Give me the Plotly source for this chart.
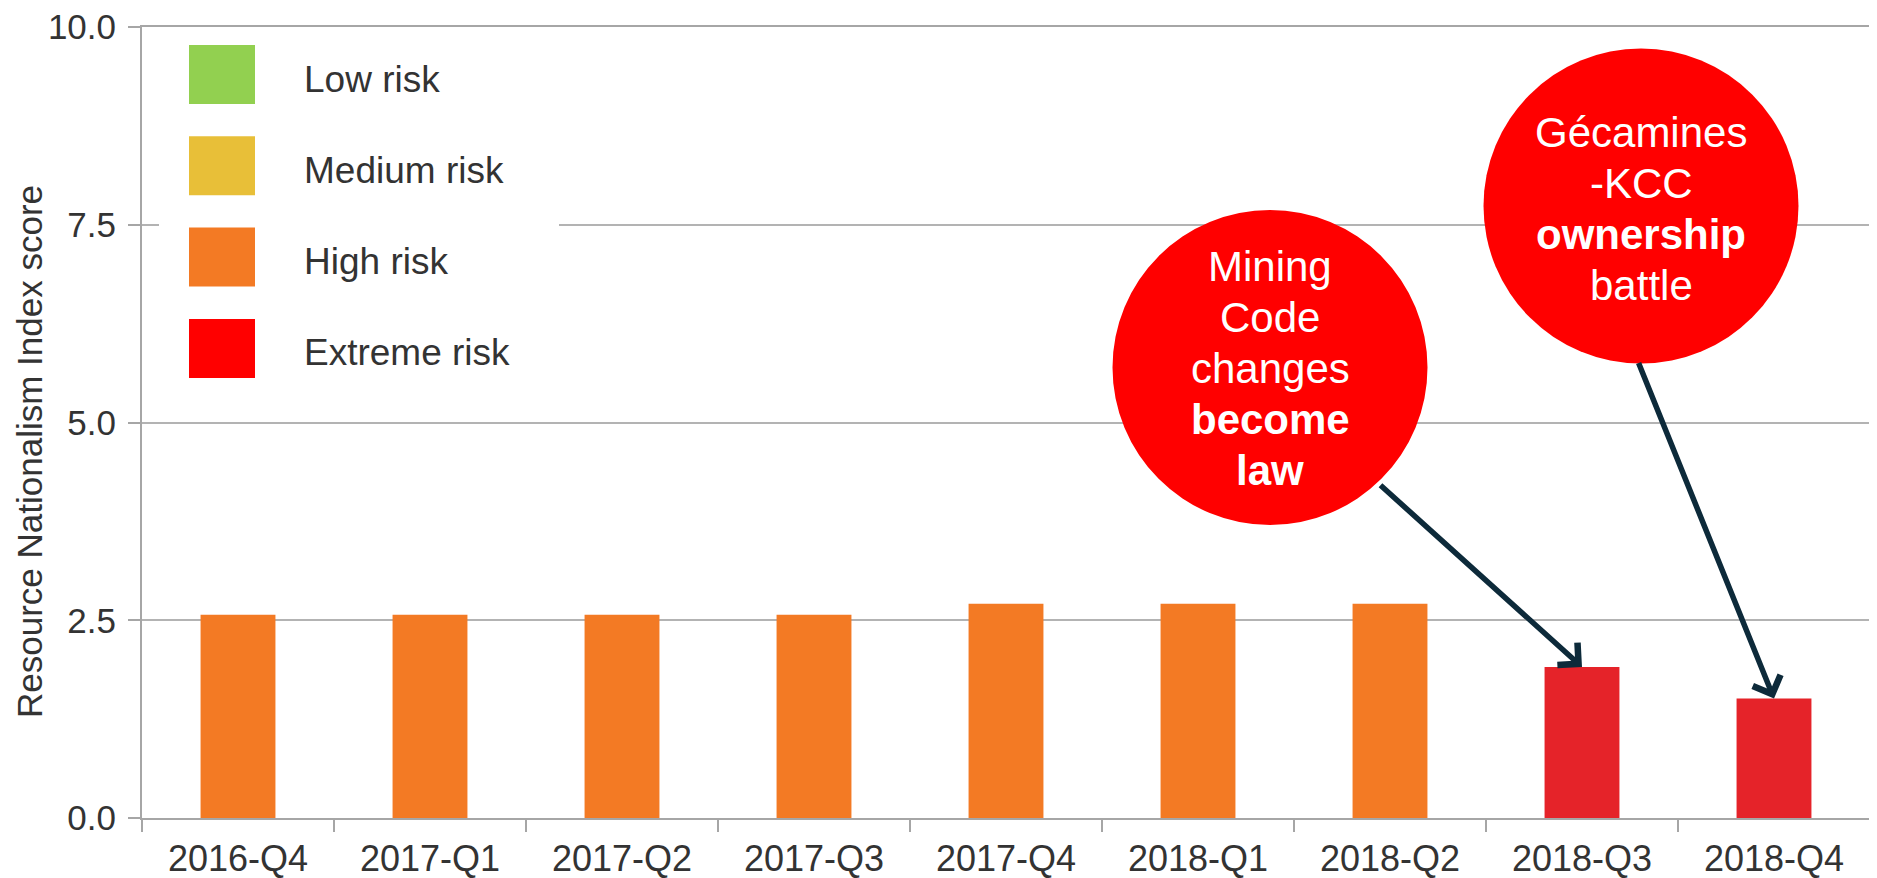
import plotly.graph_objects as go

# ---- data ----
quarters = ["2016-Q4", "2017-Q1", "2017-Q2", "2017-Q3", "2017-Q4",
            "2018-Q1", "2018-Q2", "2018-Q3", "2018-Q4"]
scores = [2.57, 2.57, 2.57, 2.57, 2.71, 2.71, 2.71, 1.91, 1.51]
risk_levels = ["High risk", "High risk", "High risk", "High risk", "High risk",
               "High risk", "High risk", "Extreme risk", "Extreme risk"]
legend_labels = ["Low risk", "Medium risk", "High risk", "Extreme risk"]
legend_colors = ["#92D050", "#E8BF38", "#F37A24", "#FF0000"]
bar_color_by_risk = {"High risk": "#F37A24", "Extreme risk": "#E52329"}
y_tick_vals = [0, 2.5, 5, 7.5, 10]
y_title = "Resource Nationalism Index score"
callout_lines = [
    ["Mining", "Code", "changes", "<b>become</b>", "<b>law</b>"],
    ["Gécamines", "-KCC", "<b>ownership</b>", "battle"],
]
callout_targets = ["2018-Q3", "2018-Q4"]

# ---- layout geometry (page pixels; body has an 8px margin) ----
W, H = 1877, 878
OFF = 8
PLOT_L, PLOT_R, PLOT_T, PLOT_B = 142, 1870, 27, 818   # page coords
L = PLOT_L - OFF
T = PLOT_T - OFF
R = W - (PLOT_R - OFF)
B = H - (PLOT_B - OFF)
PW, PH = PLOT_R - PLOT_L, PLOT_B - PLOT_T
FONT = "Liberation Sans, Arial, sans-serif"
TXT = "#333333"
GRID = "#B3B3B3"
AXIS = "#A6A6A6"


def px(xp):
    return (xp - PLOT_L) / PW


def py(yp):
    return (PLOT_B - yp) / PH


fig = go.Figure()
fig.add_trace(go.Bar(
    x=quarters, y=scores, width=0.39,
    marker=dict(color=[bar_color_by_risk[r] for r in risk_levels],
                line=dict(width=0)),
    showlegend=False, hoverinfo="x+y",
))

shapes = []
annotations = []

# legend background and entries
shapes.append(dict(type="rect", xref="paper", yref="paper",
                   x0=px(159), x1=px(559), y0=py(405), y1=py(32),
                   fillcolor="white", line=dict(width=0), layer="above"))
for i, (lab, col) in enumerate(zip(legend_labels, legend_colors)):
    top = 45 + i * 91.3
    shapes.append(dict(type="rect", xref="paper", yref="paper",
                       x0=px(189), x1=px(255), y0=py(top + 59), y1=py(top),
                       fillcolor=col, line=dict(width=0), layer="above"))
    annotations.append(dict(x=px(302), y=py(top + 34), xref="paper", yref="paper",
                            xanchor="left", yanchor="middle", text=lab,
                            showarrow=False,
                            font=dict(family=FONT, size=37, color=TXT)))

# callout circles
circle_centers = [(1270, 367.5), (1641, 206)]
first_baselines = [281.7, 148]
line_step = 51
rad = 157.5
CFS = 42
for (cx, cy), lines, bl0 in zip(circle_centers, callout_lines, first_baselines):
    shapes.append(dict(type="circle", xref="paper", yref="paper",
                       xsizemode="pixel", ysizemode="pixel",
                       xanchor=px(cx), yanchor=py(cy),
                       x0=-rad, x1=rad, y0=-rad, y1=rad,
                       fillcolor="#FF0000", line=dict(width=0), layer="above"))
    for k, ln in enumerate(lines):
        bl = bl0 + k * line_step
        annotations.append(dict(x=px(cx), y=py(bl - 0.36 * CFS), xref="paper",
                                yref="paper", text=ln, showarrow=False,
                                xanchor="center", yanchor="middle",
                                font=dict(family=FONT, size=CFS, color="white")))

# arrows
arrow_offsets = [(-203, -183), (-136, -337)]
for tgt, (ax, ay) in zip(callout_targets, arrow_offsets):
    yv = scores[quarters.index(tgt)]
    annotations.append(dict(x=tgt, y=yv, xref="x", yref="y", text="",
                            showarrow=True, ax=ax, ay=ay,
                            arrowhead=4, arrowsize=1.05, arrowwidth=5.5,
                            arrowcolor="#0D2A3A", standoff=0))

# y-axis title
annotations.append(dict(x=px(29), y=py(452), xref="paper", yref="paper",
                        text=y_title, textangle=-90, showarrow=False,
                        xanchor="center", yanchor="middle",
                        font=dict(family=FONT, size=35, color=TXT)))

fig.update_layout(
    width=W, height=H,
    margin=dict(l=L, r=R, t=T, b=B, pad=0),
    paper_bgcolor="white", plot_bgcolor="white",
    shapes=shapes, annotations=annotations,
    font=dict(family=FONT, size=35, color=TXT),
)
fig.update_xaxes(
    type="category", categoryorder="array", categoryarray=quarters,
    showline=True, linecolor=AXIS, linewidth=2, mirror=True,
    ticks="outside", tickson="boundaries", ticklen=12, tickwidth=2,
    tickcolor=AXIS, showgrid=False, automargin=False,
    ticklabelstandoff=8, ticklabeloverflow="allow",
    tickfont=dict(family=FONT, size=36, color=TXT),
)
fig.update_yaxes(
    range=[0, 10], tickvals=y_tick_vals, tickformat=".1f",
    showline=True, linecolor=AXIS, linewidth=2, mirror=True,
    ticks="outside", ticklen=12, tickwidth=2, tickcolor=AXIS,
    showgrid=True, gridcolor=GRID, gridwidth=2, zeroline=False,
    automargin=False, ticklabelstandoff=5, ticklabeloverflow="allow",
    tickfont=dict(family=FONT, size=35, color=TXT),
)

fig.write_html("out.html")
